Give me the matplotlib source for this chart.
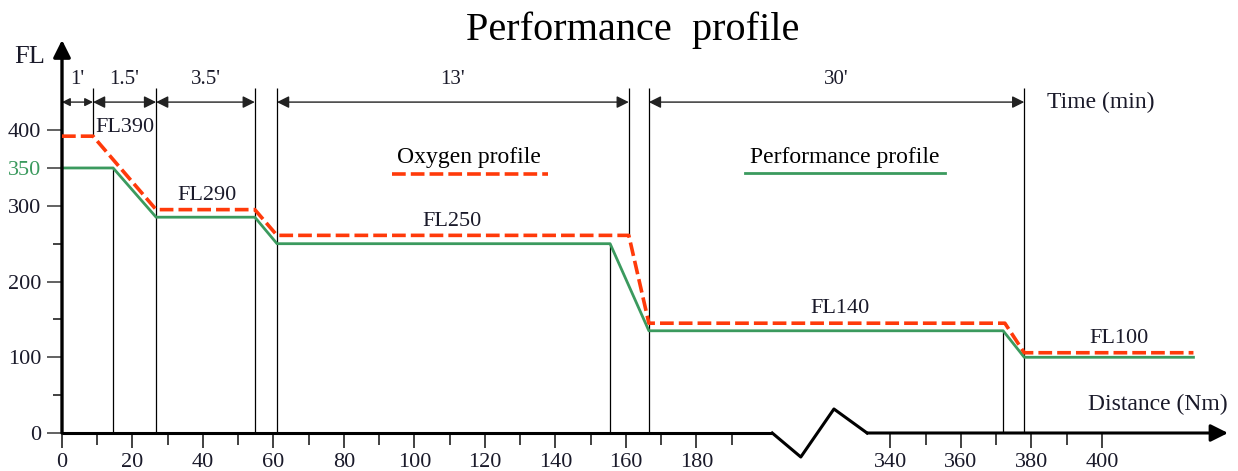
import numpy as np
import matplotlib.pyplot as plt

plt.rcParams['font.family'] = ['Liberation Serif', 'DejaVu Serif']

# Nm cut out of the distance axis by the break
BREAK_SHIFT = 105

# Oxygen profile (red dashed) - distance (Nm) / flight level
oxy_dist = [0, 8.8, 26.7, 54.7, 61, 160.8, 166.5, 372.5, 378, 426]
oxy_fl = [392, 392, 295, 295, 261, 261, 145, 145, 106, 106]

# Performance profile (green)
perf_dist = [0, 14.5, 26.7, 54.7, 61, 155.5, 166.5, 372, 378, 426]
perf_fl = [350, 350, 285, 285, 250, 250, 135, 135, 100, 100]

# thin vertical guide lines: distance, bottom FL, top FL
guide_dist = [8.8, 14.5, 26.7, 54.7, 61, 155.5, 160.8, 166.5, 372, 378]
guide_low = [392, 0, 0, 0, 0, 0, 261, 0, 0, 0]
guide_high = [456, 350, 456, 456, 456, 250, 456, 456, 135, 456]

# time segments along the top
time_start = [0, 8.8, 26.7, 61, 166.5]
time_end = [8.8, 26.7, 54.7, 160.8, 378]
time_labels = ["1'", "1.5'", "3.5'", "13'", "30'"]

# flight level labels
level_labels = ['FL390', 'FL290', 'FL250', 'FL140', 'FL100']
level_dist = [17.9, 41.1, 110.6, 325.7, 405]
level_fl = [403, 314, 279, 165, 125]

xtick_major = [0, 20, 40, 60, 80, 100, 120, 140, 160, 180, 340, 360, 380, 400]
xtick_minor = [10, 30, 50, 70, 90, 110, 130, 150, 170, 190, 350, 370, 390]
ytick_major = [0, 100, 200, 300, 350, 400]
ytick_minor = [50, 150, 250]

# zig-zag drawn where the distance axis is broken (plot units)
break_u = [201.5, 209.6, 219, 228.4]
break_fl = [0, -31.7, 31.7, 0]

RED = '#ff3a0a'
GREEN = '#3b9a5e'
TXT = '#1a1a2a'


def to_u(d):
    d = np.asarray(d, dtype=float)
    return np.where(d > 250, d - BREAK_SHIFT, d)


fig = plt.figure(figsize=(12.38, 4.71), dpi=100)
ax = fig.add_axes([62 / 1238, 38 / 471, 1166 / 1238, 393 / 471])
ax.set_xlim(0, 330.8)
ax.set_ylim(0, 519)
for s in ax.spines.values():
    s.set_visible(False)

# profiles
ax.plot(to_u(perf_dist), perf_fl, color=GREEN, lw=2.0, clip_on=False, zorder=3)
ax.plot(to_u(oxy_dist), oxy_fl, color=RED, lw=2.6, dashes=(3.8, 1.4),
        clip_on=False, zorder=4)

# guide lines
ax.vlines(to_u(guide_dist), guide_low, guide_high, color='k', lw=0.9, zorder=2)

# time arrows
arrow_fl = 437
for a, b, lab in zip(time_start, time_end, time_labels):
    ua, ub = to_u([a, b])
    ms = 12 if (ub - ua) < 12 else 18
    ax.annotate('', xy=(ub, arrow_fl), xytext=(ua, arrow_fl),
                arrowprops=dict(arrowstyle='<|-|>', color='#222222', lw=1.0,
                                mutation_scale=ms, shrinkA=0, shrinkB=0))
    ax.text((ua + ub) / 2, arrow_fl + 17, lab, ha='center', va='bottom',
            fontsize=15, color=TXT)
ax.text(279.5, arrow_fl, 'Time (min)', ha='left', va='center', fontsize=17,
        color=TXT)

# flight level labels
for lab, d, fl in zip(level_labels, level_dist, level_fl):
    ax.text(float(to_u(d)), fl, lab, ha='center', va='center', fontsize=16,
            color=TXT)

# legend-like captions
ax.text(115.5, 364, 'Oxygen profile', ha='center', va='center', fontsize=17,
        color='k')
ax.plot([93.6, 137.9], [342, 342], color=RED, lw=2.6, dashes=(3.8, 1.4))
ax.text(222, 364, 'Performance profile', ha='center', va='center',
        fontsize=17, color='k')
ax.plot([193.8, 250.5], [343, 343], color=GREEN, lw=2.0)

# axes with arrows
ax.annotate('', xy=(0, 519), xytext=(0, 0),
            arrowprops=dict(arrowstyle='-|>', color='k', lw=2.4,
                            mutation_scale=26, shrinkA=0, shrinkB=0),
            annotation_clip=False)
ax.plot([0, break_u[0]], [0, 0], color='k', lw=2.2, clip_on=False,
        solid_capstyle='butt')
ax.plot(break_u, break_fl, color='k', lw=2.2, clip_on=False)
ax.annotate('', xy=(330.8, 0), xytext=(break_u[-1], 0),
            arrowprops=dict(arrowstyle='-|>', color='k', lw=2.2,
                            mutation_scale=26, shrinkA=0, shrinkB=0),
            annotation_clip=False)
ax.text(330.8, 38, 'Distance (Nm)', ha='right', va='center', fontsize=17,
        color=TXT)

# ticks
ax.set_xticks(to_u(xtick_major))
ax.set_xticklabels([str(v) for v in xtick_major])
ax.set_xticks(to_u(xtick_minor), minor=True)
ax.tick_params(axis='x', which='major', direction='out', length=10.5,
               width=1.3, color='#333333', labelsize=16, labelcolor=TXT,
               pad=4)
ax.tick_params(axis='x', which='minor', direction='out', length=8.5,
               width=1.3, color='#333333')
ax.set_yticks(ytick_major)
ax.set_yticklabels([str(v) for v in ytick_major])
ax.set_yticks(ytick_minor, minor=True)
ax.set_yticklabels([], minor=True)
ax.tick_params(axis='y', which='major', direction='out', length=11, width=1.3,
               color='#555555', labelsize=16, labelcolor=TXT, pad=4)
ax.tick_params(axis='y', which='minor', direction='out', length=6.5,
               width=1.3, color='#333333')
for lab, v in zip(ax.get_yticklabels(), ytick_major):
    if v == 350:
        lab.set_color(GREEN)

# axis name and title
fig.text(30 / 1238, 1 - 57 / 471, 'FL', ha='center', va='center',
         fontsize=19, color=TXT)
fig.text(633 / 1238, 1 - 30 / 471, 'Performance  profile', ha='center',
         va='center', fontsize=29, color='k')

fig.savefig('out.png', dpi=100)
